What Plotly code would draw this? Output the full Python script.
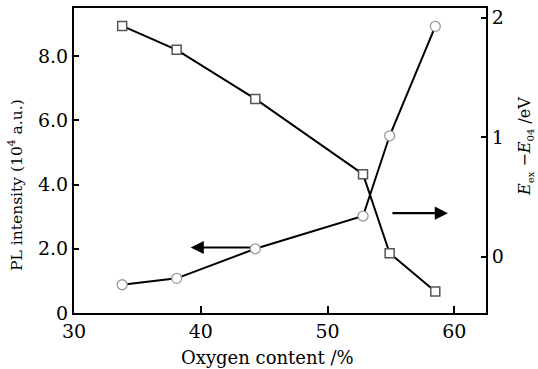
import plotly.graph_objects as go

oxygen = [33.8, 38.1, 44.3, 52.8, 54.9, 58.5]
pl_intensity = [0.88, 1.08, 2.0, 3.02, 5.52, 8.93]
energy_diff = [1.93, 1.73, 1.32, 0.69, 0.03, -0.29]

x_ticks = [30, 40, 50, 60]
y_ticks = [0, 2, 4, 6, 8]
y_ticktext = ["0", "2.0", "4.0", "6.0", "8.0"]
y2_ticks = [0, 1, 2]

FONT = "DejaVu Serif"
fs_tick = 19
fs_title = 18

fig = go.Figure()
fig.add_trace(go.Scatter(
    x=oxygen, y=pl_intensity, mode="lines+markers",
    line=dict(color="black", width=2),
    marker=dict(symbol="circle", size=10, color="white",
                line=dict(color="#9a9a9a", width=1.3)),
    showlegend=False))
fig.add_trace(go.Scatter(
    x=oxygen, y=energy_diff, mode="lines+markers", yaxis="y2",
    line=dict(color="black", width=2),
    marker=dict(symbol="square", size=9, color="white",
                line=dict(color="#555555", width=1.5)),
    showlegend=False))

# arrows indicating axes
fig.add_annotation(x=39.2, y=2.04, ax=44.0, ay=2.04, xref="x", yref="y",
                   axref="x", ayref="y", text="", showarrow=True,
                   arrowhead=2, arrowsize=1.2, arrowwidth=2.2, arrowcolor="black")
fig.add_annotation(x=59.5, y=3.11, ax=55.0, ay=3.11, xref="x", yref="y",
                   axref="x", ayref="y", text="", showarrow=True,
                   arrowhead=2, arrowsize=1.2, arrowwidth=2.2, arrowcolor="black")

# axis titles
fig.add_annotation(text="PL intensity (10<sup>4</sup> a.u.)", xref="paper", yref="paper",
                   x=-0.141, y=0.42, xanchor="center", yanchor="middle",
                   textangle=-90, showarrow=False,
                   font=dict(family=FONT, size=15.5, color="black"))
sub = '<span style="font-size:10px">{}</span>'
fig.add_annotation(text="<i>E</i><sub>" + sub.format("ex") + "</sub> \u2212<i>E</i><sub>"
                   + sub.format("04") + "</sub> /eV",
                   xref="paper", yref="paper",
                   x=1.095, y=0.545, xanchor="center", yanchor="middle",
                   textangle=-90, showarrow=False,
                   font=dict(family=FONT, size=16, color="black"))
fig.add_annotation(text="Oxygen content /%", xref="paper", yref="paper",
                   x=0.469, y=-0.145, xanchor="center", yanchor="middle", showarrow=False,
                   font=dict(family=FONT, size=fs_title, color="black"))

axis_common = dict(showline=True, linecolor="black", linewidth=2,
                   ticks="inside", tickcolor="black", tickwidth=1.5,
                   showgrid=False, zeroline=False,
                   tickfont=dict(family=FONT, size=fs_tick, color="black"))

fig.update_layout(
    width=538, height=369,
    margin=dict(l=74, r=52, t=6, b=56),
    paper_bgcolor="white", plot_bgcolor="white",
    xaxis=dict(range=[30, 62.5], tickvals=x_ticks, ticklen=7, mirror=True, **axis_common),
    yaxis=dict(range=[0, 9.5], tickvals=y_ticks, ticktext=y_ticktext, ticklen=5, **axis_common),
    yaxis2=dict(range=[-0.47, 2.08], tickvals=y2_ticks, ticklen=5, overlaying="y",
                side="right", **axis_common),
)

fig.write_html("out.html")
